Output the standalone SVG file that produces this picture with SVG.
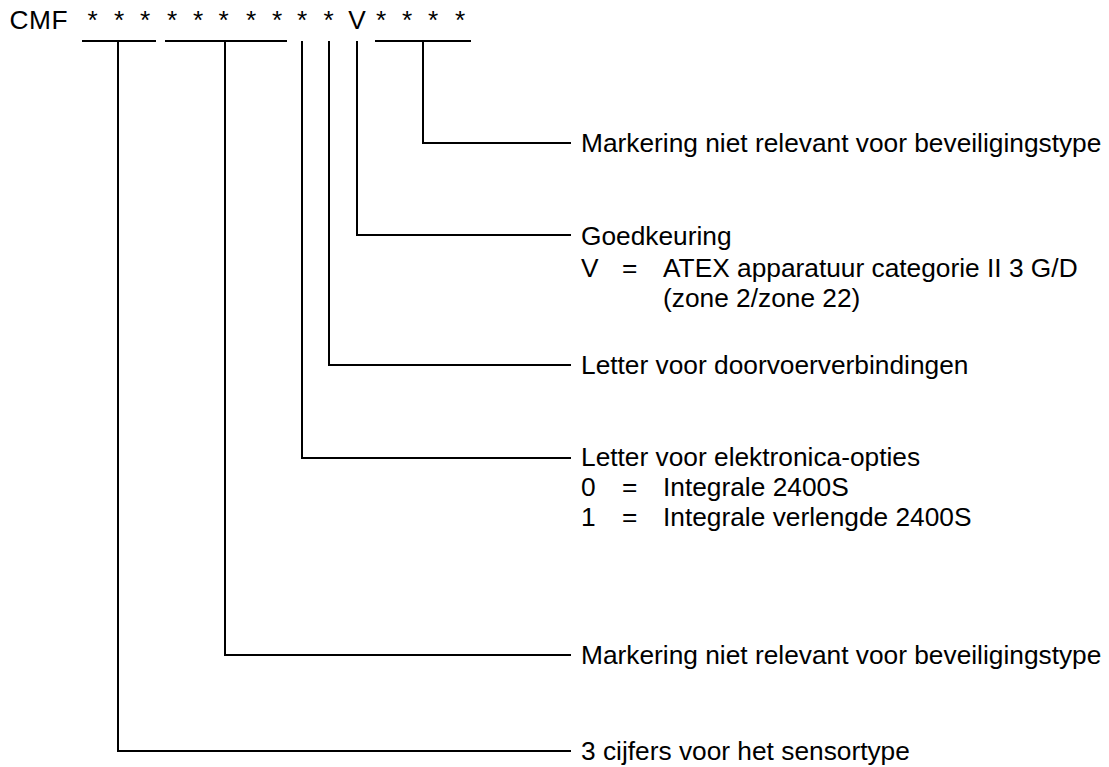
<svg xmlns="http://www.w3.org/2000/svg" width="1109" height="767" viewBox="0 0 1109 767">
<style>
text{font-family:"Liberation Sans",Arial,Helvetica,sans-serif;font-size:26.3px;fill:#000}
.c{text-anchor:middle}
.ln{stroke:#000;stroke-width:2;fill:none}
</style>
<rect width="1109" height="767" fill="#fff"/>
<g id="code">
<text class="c" x="19" y="29">C</text>
<text class="c" x="40" y="29">M</text>
<text class="c" x="59.5" y="29">F</text>
<text class="c" x="92.5" y="29">*</text>
<text class="c" x="119" y="29">*</text>
<text class="c" x="145" y="29">*</text>
<text class="c" x="172" y="29">*</text>
<text class="c" x="198" y="29">*</text>
<text class="c" x="223.5" y="29">*</text>
<text class="c" x="251" y="29">*</text>
<text class="c" x="277" y="29">*</text>
<text class="c" x="302" y="29">*</text>
<text class="c" x="328.5" y="29">*</text>
<text class="c" x="357" y="29">V</text>
<text class="c" x="381" y="29">*</text>
<text class="c" x="407" y="29">*</text>
<text class="c" x="433" y="29">*</text>
<text class="c" x="460" y="29">*</text>
</g>
<g id="connectors" class="ln">
<path d="M82 41H156M118 41V751H571"/>
<path d="M165 41H287M225 41V655H571"/>
<path d="M302 41V458H571"/>
<path d="M329 41V365H571"/>
<path d="M357 41V235H571"/>
<path d="M375 41H471M423 41V143H571"/>
</g>
<g id="label-markering-1"><text x="581" y="152">Markering niet relevant voor beveiligingstype</text></g>
<g id="label-goedkeuring">
<text x="581" y="245">Goedkeuring</text>
<text y="277"><tspan x="581">V</tspan><tspan x="622">=</tspan><tspan x="663">ATEX apparatuur categorie II 3 G/D</tspan></text>
<text x="663" y="307">(zone 2/zone 22)</text>
</g>
<g id="label-doorvoer"><text x="581" y="374">Letter voor doorvoerverbindingen</text></g>
<g id="label-elektronica">
<text x="581" y="466">Letter voor elektronica-opties</text>
<text y="496"><tspan x="581">0</tspan><tspan x="622">=</tspan><tspan x="663">Integrale 2400S</tspan></text>
<text y="526"><tspan x="581">1</tspan><tspan x="622">=</tspan><tspan x="663">Integrale verlengde 2400S</tspan></text>
</g>
<g id="label-markering-2"><text x="581" y="664">Markering niet relevant voor beveiligingstype</text></g>
<g id="label-sensortype"><text x="581" y="760">3 cijfers voor het sensortype</text></g>
</svg>
